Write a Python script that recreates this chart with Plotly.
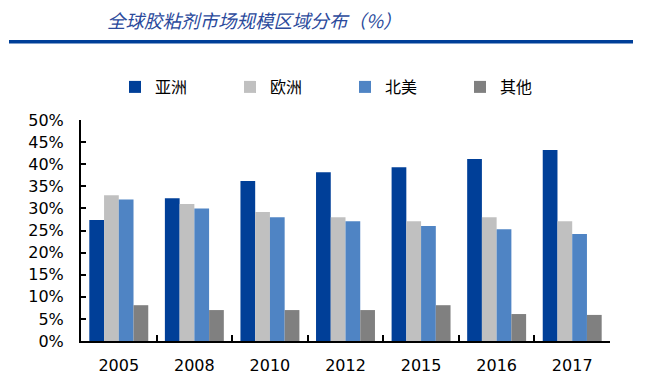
import plotly.graph_objects as go

years = ["2005", "2008", "2010", "2012", "2015", "2016", "2017"]
asia = [27.4, 32.3, 36.2, 38.2, 39.3, 41.2, 43.2]
europe = [33.0, 31.0, 29.2, 28.0, 27.1, 28.0, 27.1]
north_america = [32.0, 30.0, 28.0, 27.1, 26.0, 25.3, 24.2]
others = [8.1, 7.0, 7.0, 7.0, 8.1, 6.1, 5.9]

series = [
    ("亚洲", asia, "#003F98"),
    ("欧洲", europe, "#C0C0C0"),
    ("北美", north_america, "#4F84C4"),
    ("其他", others, "#808080"),
]

fig = go.Figure()
for name, vals, color in series:
    fig.add_trace(go.Bar(
        x=years, y=[v / 100 for v in vals], name=name,
        marker=dict(color=color, line=dict(width=0)),
    ))

L, R, T, B = 81, 38, 120, 46
W, H = 648, 387
pw, ph = W - L - R, H - T - B

def px_x(x):
    return (x - L) / pw

def px_y(y):
    return (H - B - y) / ph

fig.update_layout(
    width=W, height=H,
    margin=dict(l=L, r=R, t=T, b=B, pad=0),
    paper_bgcolor="white", plot_bgcolor="white",
    barmode="group", bargap=0.22, bargroupgap=0,
    font=dict(family="DejaVu Sans", color="black"),
    showlegend=True,
    legend=dict(
        orientation="h", x=px_x(115), y=px_y(87), xanchor="left", yanchor="middle",
        entrywidth=70, entrywidthmode="pixels",
        font=dict(family="Noto Sans CJK SC", size=16, color="black"),
        bgcolor="rgba(0,0,0,0)",
    ),
    xaxis=dict(
        type="category", showline=True, linecolor="black", linewidth=2,
        ticks="inside", ticklen=6, tickwidth=2, tickcolor="black",
        tickson="boundaries", showgrid=False, ticklabelstandoff=9,
        tickfont=dict(family="DejaVu Sans", size=16, color="black"),
    ),
    yaxis=dict(
        range=[0, 0.5], dtick=0.05, tickformat=".0%",
        showline=True, linecolor="black", linewidth=2,
        ticks="inside", ticklen=5, tickwidth=1.5, tickcolor="black",
        showgrid=False, zeroline=False, ticklabelstandoff=12,
        tickfont=dict(family="DejaVu Sans", size=16, color="black"),
    ),
)

fig.add_annotation(
    text="全球胶粘剂市场规模区域分布（%）",
    xref="paper", yref="paper", x=px_x(105), y=px_y(20),
    xanchor="left", yanchor="middle", showarrow=False,
    font=dict(family="Noto Sans CJK SC", size=18.5, color="#2B4A9C", style="italic"),
)
fig.add_shape(
    type="line", xref="paper", yref="paper",
    x0=px_x(9), x1=px_x(633), y0=px_y(41.7), y1=px_y(41.7),
    line=dict(color="#003F98", width=3.5),
)

fig.write_html("out.html", config={"displayModeBar": False},
               post_script="document.body.style.margin='0';")
